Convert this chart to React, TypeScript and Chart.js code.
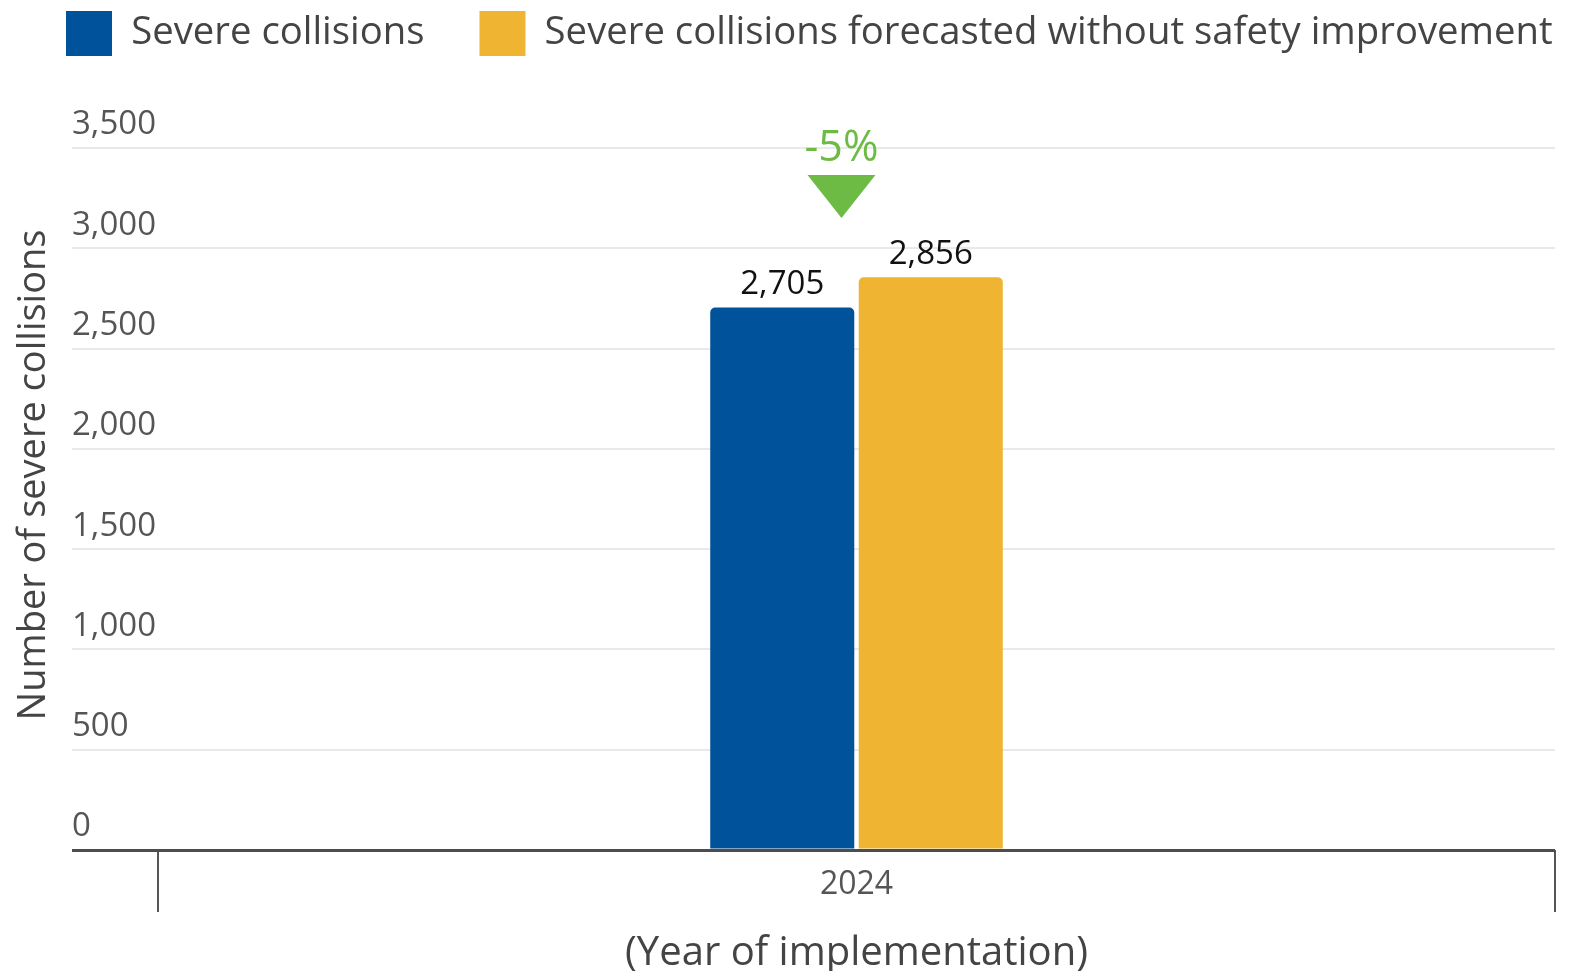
import React, { useEffect, useRef } from "react";
import { Chart, registerables } from "chart.js";

Chart.register(...registerables);

const categories = ["2024"];
const seriesNames = [
  "Severe collisions",
  "Severe collisions forecasted without safety improvement",
];
const severeCollisions = [2705];
const forecastWithoutImprovement = [2856];
const yTicks = [0, 500, 1000, 1500, 2000, 2500, 3000, 3500];
const yTitle = "Number of severe collisions";
const xTitle = "(Year of implementation)";

const FONT = "'Open Sans', 'Noto Sans', sans-serif";
const BLUE = "#00539B";
const YELLOW = "#F0B433";
const GREEN = "#6DBB45";
const LEGEND_PAD = 55;

export default function App() {
  const ref = useRef<HTMLCanvasElement | null>(null);

  useEffect(() => {
    if (!ref.current) return;
    document.documentElement.style.overflow = "hidden";
    const yMax = yTicks[yTicks.length - 1];

    const layoutTweaks = {
      id: "layoutTweaks",
      beforeInit(chart: any) {
        const legend = chart.legend;
        if (!legend) return;
        const origFit = legend.fit;
        legend.fit = function () {
          const mw = this.maxWidth;
          this.maxWidth = 5000;
          origFit.call(this);
          this.maxWidth = mw;
          this.width = mw;
          this.height = 140;
        };
      },
      afterLayout(chart: any) {
        const legend = chart.legend;
        if (legend) {
          legend.left = 3;
          legend.right = 5000;
          legend.top = 3 - LEGEND_PAD;
        }
        const ys = chart.scales.y;
        if (ys && !ys.__patched) {
          const orig = ys.drawTitle;
          ys.drawTitle = function (...args: any[]) {
            const ctx = this.ctx;
            ctx.save();
            ctx.translate(0, -24);
            orig.apply(this, args);
            ctx.restore();
          };
          ys.__patched = true;
        }
      },
    };

    const valueLabels = {
      id: "valueLabels",
      afterDatasetsDraw(chart: any) {
        const ctx = chart.ctx;
        ctx.save();
        ctx.font = `33px ${FONT}`;
        ctx.fillStyle = "#111";
        ctx.textAlign = "center";
        ctx.textBaseline = "middle";
        chart.data.datasets.forEach((ds: any, i: number) => {
          const meta = chart.getDatasetMeta(i);
          meta.data.forEach((bar: any, j: number) => {
            ctx.fillText(Number(ds.data[j]).toLocaleString("en-US"), bar.x, bar.y - 23);
          });
        });
        // change annotation
        const b0 = chart.getDatasetMeta(0).data[0];
        const b1 = chart.getDatasetMeta(1).data[0];
        const a = severeCollisions[0];
        const b = forecastWithoutImprovement[0];
        const pct = Math.round(((a - b) / b) * 100);
        const cx = (b0.x + b1.x) / 2 - 15;
        const top = chart.scales.y.getPixelForValue(yMax);
        ctx.fillStyle = GREEN;
        ctx.font = `43px ${FONT}`;
        ctx.fillText(`${pct}%`, cx, top + 1);
        ctx.beginPath();
        ctx.moveTo(cx - 34, top + 27);
        ctx.lineTo(cx + 34, top + 27);
        ctx.lineTo(cx, top + 70);
        ctx.closePath();
        ctx.fill();
        ctx.restore();
      },
    };

    const chart = new Chart(ref.current, {
      type: "bar",
      data: {
        labels: categories,
        datasets: [
          {
            label: seriesNames[0],
            data: severeCollisions,
            backgroundColor: BLUE,
            borderWidth: 0,
            borderRadius: 5,
            categoryPercentage: 0.2126,
            barPercentage: 0.97,
          },
          {
            label: seriesNames[1],
            data: forecastWithoutImprovement,
            backgroundColor: YELLOW,
            borderWidth: 0,
            borderRadius: 5,
            categoryPercentage: 0.2126,
            barPercentage: 0.97,
          },
        ],
      },
      options: {
        animation: false,
        responsive: true,
        maintainAspectRatio: false,
        layout: { padding: { top: 0, left: 0, right: 6, bottom: 0 } },
        plugins: {
          legend: {
            display: true,
            position: "top",
            align: "start",
            labels: {
              boxWidth: 46,
              boxHeight: 45,
              padding: LEGEND_PAD,
              color: "#444",
              font: { family: FONT, size: 38.3 },
            },
          },
          tooltip: { enabled: false },
        },
        scales: {
          x: {
            type: "category",
            border: { display: false },
            grid: {
              offset: true,
              drawOnChartArea: false,
              drawTicks: true,
              tickLength: 62,
              color: "#555",
              lineWidth: 2,
            },
            ticks: {
              padding: -46,
              color: "#555",
              font: { family: FONT, size: 32 },
            },
            title: {
              display: true,
              text: xTitle,
              color: "#444",
              font: { family: FONT, size: 40, lineHeight: 1 },
              padding: { top: 0, bottom: 5 },
            },
            afterFit: (s: any) => {
              s.height = 129;
            },
          },
          y: {
            min: 0,
            max: yMax,
            border: { display: false },
            grid: {
              color: (c: any) => (c.tick && c.tick.value === 0 ? "#4d4d4d" : "#e9e9e9"),
              lineWidth: (c: any) => (c.tick && c.tick.value === 0 ? 3 : 2),
              drawTicks: true,
              tickLength: 86,
            },
            afterBuildTicks: (s: any) => {
              s.ticks = yTicks.map((v) => ({ value: v }));
            },
            ticks: {
              mirror: true,
              padding: -86,
              labelOffset: -23,
              color: "#555",
              font: { family: FONT, size: 33 },
              callback: (v: any) => Number(v).toLocaleString("en-US"),
            },
            title: {
              display: true,
              text: yTitle,
              color: "#444",
              font: { family: FONT, size: 38 },
              padding: { top: 3, bottom: 0 },
            },
            afterFit: (s: any) => {
              s.width = 150;
            },
          },
        },
      },
      plugins: [layoutTweaks, valueLabels],
    });
    return () => chart.destroy();
  }, []);

  return (
    <div style={{ position: "relative", width: 1553, height: 971, marginBottom: -8 }}>
      <canvas ref={ref} />
    </div>
  );
}
